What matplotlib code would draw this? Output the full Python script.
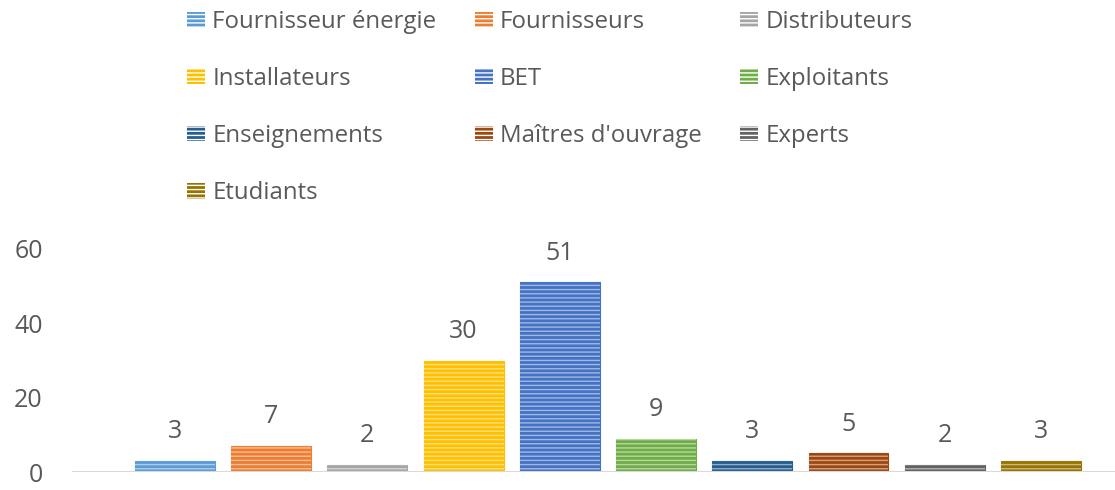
import matplotlib.pyplot as plt
from matplotlib.patches import Patch
import numpy as np

categories = ['Fournisseur énergie', 'Fournisseurs', 'Distributeurs', 'Installateurs', 'BET',
              'Exploitants', 'Enseignements', "Maîtres d'ouvrage", 'Experts', 'Etudiants']
values = [3, 7, 2, 30, 51, 9, 3, 5, 2, 3]
colors = ['#5B9BD5', '#ED7D31', '#A5A5A5', '#FFC000', '#4472C4',
          '#70AD47', '#255E91', '#9E480E', '#636363', '#997300']

plt.rcParams['font.family'] = ['Open Sans', 'DejaVu Sans']
plt.rcParams['hatch.linewidth'] = 1.0
txt = '#595959'
fs = 18

fig = plt.figure(figsize=(11.15, 4.9), dpi=100)
ax = fig.add_axes([72 / 1115, 1 - 472 / 490, 1 - 72 / 1115, 223 / 490])

x = np.arange(len(categories))
w = 0.83
ax.bar(x, values, width=w, color=colors, edgecolor=colors, linewidth=0.8, zorder=2)
ax.bar(x, values, width=w, color='none', edgecolor='white', alpha=0.5,
       hatch='----', linewidth=0, zorder=3)

for xi, v in zip(x, values):
    ax.annotate(str(v), (xi, v), xytext=(0, 12), textcoords='offset points',
                ha='center', va='bottom', fontsize=fs, color=txt)

ax.set_ylim(0, 60)
ax.set_xlim(-1.07, 9.77)
ax.set_yticks([0, 20, 40, 60])
ax.set_xticks([])
ax.tick_params(axis='y', length=0, pad=21, labelsize=fs, labelcolor=txt)
for s in ax.spines.values():
    s.set_visible(False)
ax.axhline(0, color='#D9D9D9', lw=2.2, zorder=4)

handles = [Patch(facecolor=c, edgecolor='white', hatch='----', linewidth=0) for c in colors]
# Excel fills the legend row by row; matplotlib fills column by column
order = [0, 3, 6, 9, 1, 4, 7, 2, 5, 8]
fig.legend([handles[i] for i in order], [categories[i] for i in order], ncol=3,
           loc='upper left', bbox_to_anchor=(175 / 1115, 1 + 2 / 490), frameon=False,
           fontsize=17.3, labelcolor=txt, handlelength=0.75, handleheight=0.6,
           handletextpad=0.3, columnspacing=1.6, labelspacing=1.38, borderpad=0)

fig.savefig('out.png', dpi=100)
